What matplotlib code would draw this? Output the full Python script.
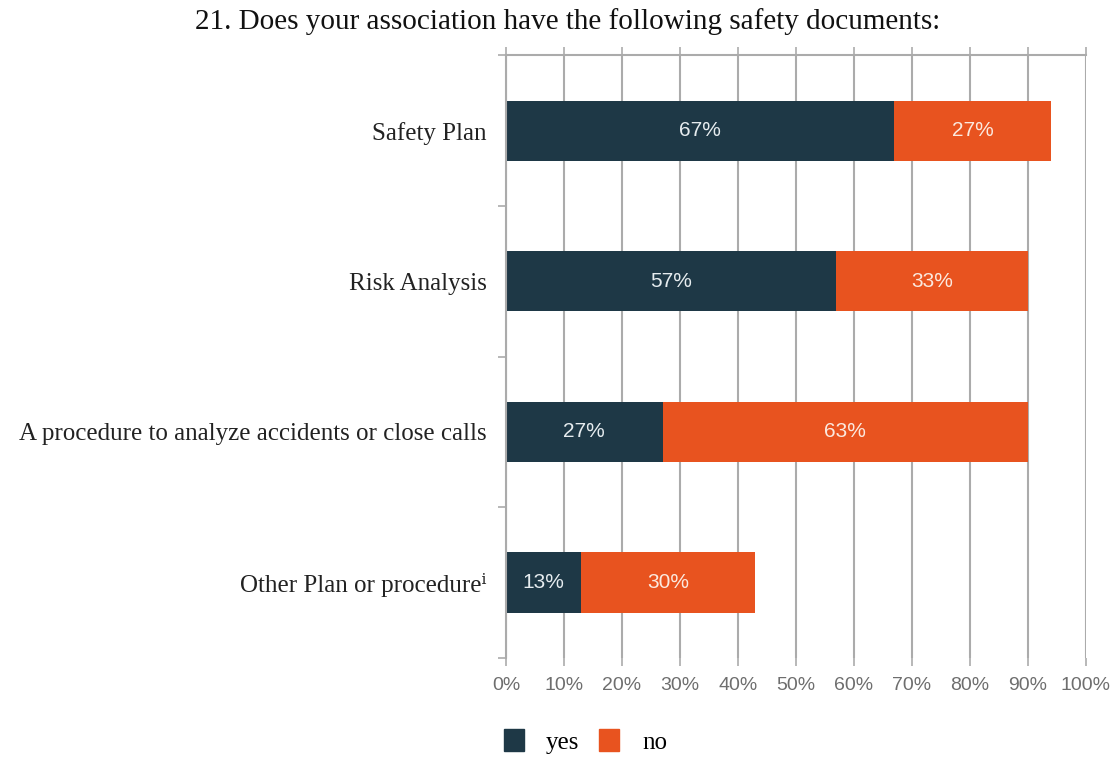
import numpy as np
import matplotlib
matplotlib.use("Agg")
import matplotlib.pyplot as plt
from matplotlib.patches import Patch

# data
categories = ["Safety Plan", "Risk Analysis",
              "A procedure to analyze accidents or close calls",
              "Other Plan or procedure\u2071"]
yes = [67, 57, 27, 13]
no = [27, 33, 63, 30]
xticks = [0, 10, 20, 30, 40, 50, 60, 70, 80, 90, 100]

navy = "#1e3846"
orange = "#e8531f"
grid_c = "#ababab"
serif = ["Liberation Serif", "DejaVu Serif"]
sans = ["Liberation Sans", "DejaVu Sans"]

fig = plt.figure(figsize=(11.17, 7.58), dpi=100)
ax = fig.add_axes([0.453, 0.132, 0.519, 0.795])

y = np.arange(len(categories))
ax.barh(y, yes, height=0.4, color=navy)
ax.barh(y, no, left=yes, height=0.4, color=orange)

for i in range(len(categories)):
    ax.text(yes[i] / 2, y[i], f"{yes[i]}%", ha="center", va="center",
            color="#e6ecef", fontsize=15, family=sans)
    ax.text(yes[i] + no[i] / 2, y[i], f"{no[i]}%", ha="center", va="center",
            color="#fbe9df", fontsize=15, family=sans)

ax.set_xlim(0, 100)
ax.set_ylim(len(categories) - 0.5, -0.5)
ax.set_xticks(xticks)
ax.set_xticklabels([f"{t}%" for t in xticks], family=sans, fontsize=14, color="#6e6e6e")
ax.set_yticks(y)
ax.set_yticklabels(categories, family=serif, fontsize=18, color="#222222")
ax.set_yticks(np.arange(-0.5, len(categories)), minor=True)

ax.tick_params(axis="y", which="major", length=0, pad=14)
ax.tick_params(axis="y", which="minor", length=6, color=grid_c, width=1.2)
ax.tick_params(axis="x", which="major", length=6, color=grid_c, width=1.2,
               top=True, pad=8)

ax.xaxis.grid(True, color=grid_c, linewidth=1.5)
ax.set_axisbelow(True)
for s in ["right", "bottom"]:
    ax.spines[s].set_visible(False)
for s in ["left", "top"]:
    ax.spines[s].set_color(grid_c)
    ax.spines[s].set_linewidth(1.5)

fig.text(0.508, 0.971, "21. Does your association have the following safety documents:",
         ha="center", va="center", fontsize=21, family=serif, color="#111111")

handles = [Patch(color=navy, label="yes"), Patch(color=orange, label="no")]
fig.legend(handles=handles, loc="center", bbox_to_anchor=(0.524, 0.022),
           ncol=2, frameon=False, prop={"family": serif, "size": 18},
           handlelength=0.8, handleheight=1.0, columnspacing=0.8, handletextpad=0.9)

fig.savefig("out.png", dpi=100)
